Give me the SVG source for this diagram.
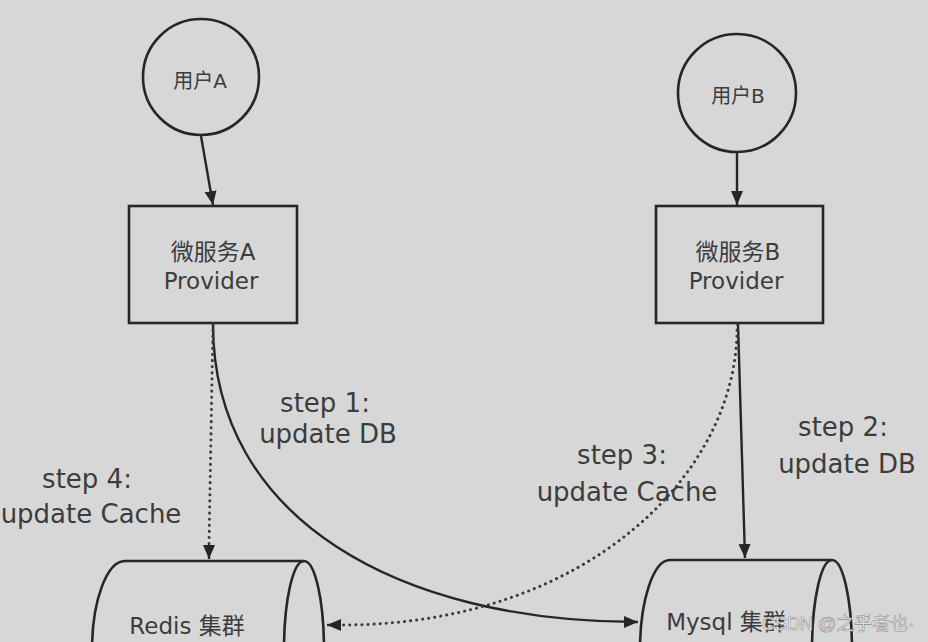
<svg xmlns="http://www.w3.org/2000/svg" width="928" height="642" viewBox="0 0 928 642">
<style>
.bg{fill:#d7d7d7}
.shape{fill:none;stroke:#262626;stroke-width:2.6}
.edge{fill:none;stroke:#262626;stroke-width:2.4}
.dot{fill:none;stroke:#3a3a3a;stroke-width:3;stroke-dasharray:0.1 6;stroke-linecap:round}
.lbl{font-family:"DejaVu Sans","Noto Sans CJK SC",sans-serif;fill:#3c3c3c;text-anchor:middle}
.n{font-size:23px}
.s{font-size:20px}
.e{font-size:26px}
.wm{font-family:"Liberation Sans","Noto Sans CJK SC",sans-serif;font-size:18px;fill:#ffffff;stroke:#8a8a8a;stroke-width:0.6}
</style>
<defs>
<marker id="ah" markerWidth="16" markerHeight="14" refX="14" refY="6" orient="auto" markerUnits="userSpaceOnUse">
<path d="M0,0 L14,6 L0,12 Z" fill="#262626"/>
</marker>
</defs>
<rect class="bg" x="0" y="0" width="928" height="642"/>
<g id="userA">
<circle class="shape" cx="201" cy="77" r="58"/>
<text class="lbl s" x="200" y="88">用户A</text>
</g>
<g id="userB">
<circle class="shape" cx="737" cy="93" r="59"/>
<text class="lbl s" x="738" y="103">用户B</text>
</g>
<g id="svcA">
<rect class="shape" x="129" y="206" width="168" height="117"/>
<text class="lbl n" x="213" y="260">微服务A</text>
<text class="lbl n" x="211" y="289">Provider</text>
</g>
<g id="svcB">
<rect class="shape" x="656" y="206" width="167" height="117"/>
<text class="lbl n" x="738" y="260">微服务B</text>
<text class="lbl n" x="736" y="289">Provider</text>
</g>
<g id="redis">
<path class="shape" d="M125,561 L304,561 M125,561 A33,89 0 0 0 125,739 L304,739"/>
<ellipse class="shape" cx="304" cy="650" rx="20" ry="89"/>
<text class="lbl n" x="187" y="634">Redis 集群</text>
</g>
<g id="mysql">
<path class="shape" d="M670,560 L832,560 M670,560 A30,90 0 0 0 670,740 L832,740"/>
<ellipse class="shape" cx="832" cy="650" rx="20" ry="90"/>
<text class="lbl n" x="726" y="630">Mysql 集群</text>
</g>
<g id="connectors">
<path class="edge" d="M201,136 Q206,165 213,205" marker-end="url(#ah)"/>
<path class="edge" d="M737,152 L737,205" marker-end="url(#ah)"/>
<path class="edge" d="M213,324 C213,520 400,622 638,622" marker-end="url(#ah)"/>
<path class="edge" d="M738,324 L745,558" marker-end="url(#ah)"/>
<path class="dot" d="M213,324 L209,546"/>
<path class="edge" d="M209,546 L209,559" marker-end="url(#ah)" stroke="none"/>
<path class="dot" d="M737,324 C740,470 590,625 341,625"/>
<path class="edge" d="M340,625 L327,625" marker-end="url(#ah)" stroke="none"/>
</g>
<g id="labels">
<text class="lbl e" x="325" y="412">step 1:</text>
<text class="lbl e" x="328" y="443">update DB</text>
<text class="lbl e" x="843" y="436">step 2:</text>
<text class="lbl e" x="847" y="473">update DB</text>
<text class="lbl e" x="622" y="464">step 3:</text>
<text class="lbl e" x="627" y="501">update Cache</text>
<text class="lbl e" x="87" y="488">step 4:</text>
<text class="lbl e" x="91" y="523">update Cache</text>
</g>
<text class="wm" x="762" y="630">CSDN @之乎者也·</text>
</svg>
